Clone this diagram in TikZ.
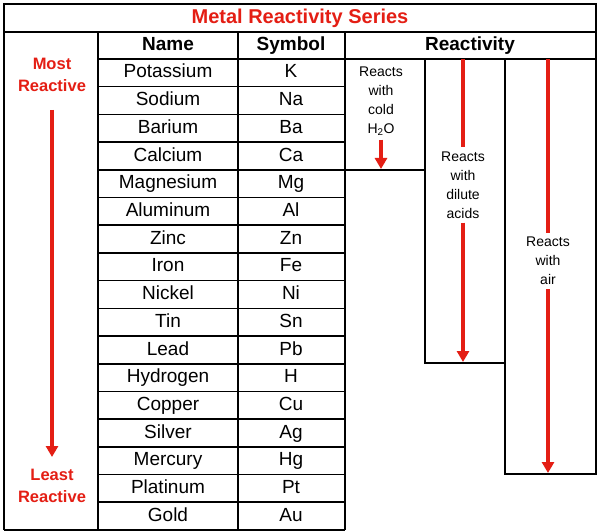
\documentclass[tikz,border=0pt]{standalone}
\usepackage{fontspec}
\usetikzlibrary{arrows.meta}
\setmainfont{Liberation Sans}
\definecolor{rred}{RGB}{228,30,20}
\begin{document}
\begin{tikzpicture}[x=1pt,y=-1pt,line width=1.6pt,
  cell/.style={font=\fontsize{19}{21}\selectfont,text height=13.5pt,text depth=3.5pt,inner sep=0pt},
  head/.style={font=\bfseries\fontsize{19}{21}\selectfont,text height=13.5pt,text depth=3.5pt,inner sep=0pt},
  small/.style={font=\fontsize{14}{19}\selectfont,align=center},
  redlbl/.style={font=\bfseries\fontsize{16.5}{22}\selectfont,text=rred,align=center},
  rarrow/.style={draw=rred,line width=3.6pt,-{Triangle[length=11pt,width=12pt]}},
  rline/.style={draw=rred,line width=3.6pt}]
\useasboundingbox (0,0) rectangle (600,532);
\fill[white] (0,0) rectangle (600,532);
% frame
\draw (4,530) -- (4,4) -- (596,4) -- (596,474) -- (505,474) -- (505,59);
\draw (4,32) -- (596,32);
\draw (98,32) -- (98,530) -- (4,530) (98,530) -- (345,530);
\draw (238,32) -- (238,530);
\draw (345,32) -- (345,530);
\draw (98,59) -- (596,59);
\draw (345,170) -- (425,170);
\draw (425,59) -- (425,363) -- (505,363);
\node[font=\bfseries\fontsize{20}{22}\selectfont,text=rred] (title) at (300,18) {Metal Reactivity Series};
\node[head] (hn) at (168,46) {Name};
\node[head] (hs) at (291,46) {Symbol};
\node[head] (hr) at (470,46) {Reactivity};
\foreach \n/\s [count=\i from 0] in {Potassium/K,Sodium/Na,Barium/Ba,Calcium/Ca,Magnesium/Mg,Aluminum/Al,Zinc/Zn,Iron/Fe,Nickel/Ni,Tin/Sn,Lead/Pb,Hydrogen/H,Copper/Cu,Silver/Ag,Mercury/Hg,Platinum/Pt,Gold/Au}{
  \pgfmathsetmacro\yc{73+27.7*\i}
  \node[cell] (n\i) at (168,\yc) {\n};
  \node[cell] (s\i) at (291,\yc) {\s};
  \ifnum\i>0 \pgfmathsetmacro\yl{59+27.7*\i}\draw (98,\yl) -- (345,\yl);\fi
}
\node[redlbl] (most) at (52,75) {Most\\Reactive};
\node[redlbl] (least) at (52,486) {Least\\Reactive};
\coordinate (mb) at (52,457);
\draw[rarrow] (52,110) -- (mb);
\node[small] (cold) at (381,101) {Reacts\\with\\cold\\H\textsubscript{2}O};
\coordinate (ce) at (381,169);
\draw[rarrow] (cold.south) -- (ce);
\coordinate (dt) at (463,59); \coordinate (de) at (463,362);
\node[small] (dil) at (463,185) {Reacts\\with\\dilute\\acids};
\draw[rline] (dt) -- (dil.north);
\draw[rarrow] (dil.south) -- (de);
\coordinate (at) at (548,59); \coordinate (ae) at (548,473);
\node[small] (air) at (548,261) {Reacts\\with\\air};
\draw[rline] (at) -- (air.north);
\draw[rarrow] (air.south) -- (ae);
\end{tikzpicture}
\end{document}
